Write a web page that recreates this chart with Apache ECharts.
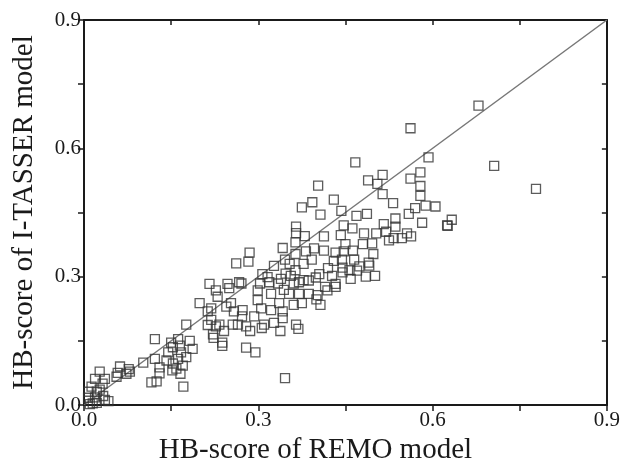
<!DOCTYPE html>
<html>
<head>
<meta charset="utf-8">
<script src="https://cdn.jsdelivr.net/npm/echarts@6/dist/echarts.min.js"></script>
<style>
  html, body { margin: 0; padding: 0; background: #fff; }
  #chart { width: 623px; height: 470px; }
</style>
</head>
<body>
<div id="chart"></div>
<script>
// axis settings
const axisMin = 0
const axisMax = 0.9
const tickStep = 0.15
const labelStep = 0.3

// identity line y = x
const diagonal = [[0, 0], [0.9, 0.9]]

// HB-score pairs [REMO, I-TASSER]
const nearOrigin = [
  [0.007, 0.017], [0.019, 0.018], [0.033, 0.021], [0.027, 0.036], [0.013, 0.043],
  [0.019, 0.061], [0.027, 0.078], [0.036, 0.061], [0.022, 0.031], [0.008, 0.031],
  [0.015, 0.004], [0.042, 0.009], [0.036, 0.012], [0.022, 0.005], [0.032, 0.050],
  [0.010, 0.002], [0.056, 0.066], [0.062, 0.090], [0.058, 0.075], [0.079, 0.078],
  [0.073, 0.073], [0.077, 0.084], [0.102, 0.099], [0.122, 0.154], [0.122, 0.108],
  [0.125, 0.055], [0.116, 0.053], [0.130, 0.074], [0.130, 0.088]
]
const lowRange = [
  [0.142, 0.104], [0.145, 0.123], [0.153, 0.135], [0.150, 0.146], [0.162, 0.154],
  [0.165, 0.139], [0.167, 0.123], [0.162, 0.108], [0.153, 0.097], [0.159, 0.085],
  [0.176, 0.112], [0.187, 0.131], [0.182, 0.150], [0.171, 0.043], [0.176, 0.188],
  [0.152, 0.081], [0.166, 0.073], [0.170, 0.092], [0.213, 0.219], [0.213, 0.187],
  [0.219, 0.199], [0.227, 0.184], [0.222, 0.165], [0.238, 0.146], [0.245, 0.230],
  [0.233, 0.188], [0.256, 0.188], [0.216, 0.283], [0.227, 0.268], [0.247, 0.283],
  [0.267, 0.287], [0.199, 0.238], [0.219, 0.226], [0.253, 0.238], [0.230, 0.253],
  [0.238, 0.138], [0.241, 0.173], [0.223, 0.157]
]
const midRange = [
  [0.285, 0.356], [0.283, 0.335], [0.262, 0.331], [0.342, 0.367], [0.346, 0.340],
  [0.327, 0.325], [0.307, 0.306], [0.299, 0.268], [0.319, 0.287], [0.339, 0.295],
  [0.356, 0.302], [0.370, 0.287], [0.299, 0.245], [0.322, 0.260], [0.336, 0.238],
  [0.353, 0.260], [0.370, 0.260], [0.273, 0.222], [0.293, 0.207], [0.305, 0.226],
  [0.322, 0.222], [0.342, 0.219], [0.310, 0.188], [0.327, 0.192], [0.342, 0.203],
  [0.365, 0.188], [0.279, 0.184], [0.279, 0.134], [0.295, 0.123], [0.346, 0.063],
  [0.369, 0.178], [0.338, 0.173], [0.286, 0.173], [0.306, 0.180], [0.265, 0.188],
  [0.272, 0.207], [0.258, 0.219], [0.271, 0.284], [0.250, 0.273], [0.365, 0.417],
  [0.365, 0.402], [0.316, 0.299], [0.303, 0.284], [0.334, 0.284], [0.347, 0.307],
  [0.361, 0.234], [0.375, 0.238], [0.344, 0.269]
]
const highRange = [
  [0.467, 0.567], [0.593, 0.579], [0.489, 0.525], [0.514, 0.538], [0.505, 0.517],
  [0.562, 0.529], [0.579, 0.544], [0.579, 0.512], [0.579, 0.489], [0.403, 0.513],
  [0.393, 0.474], [0.430, 0.480], [0.375, 0.462], [0.407, 0.445], [0.443, 0.454],
  [0.514, 0.493], [0.532, 0.472], [0.588, 0.466], [0.605, 0.464], [0.570, 0.460],
  [0.559, 0.447], [0.582, 0.426], [0.625, 0.420], [0.633, 0.433], [0.536, 0.436],
  [0.536, 0.417], [0.516, 0.423], [0.487, 0.447], [0.469, 0.442], [0.447, 0.420],
  [0.462, 0.413], [0.482, 0.401], [0.503, 0.401], [0.496, 0.378], [0.533, 0.390],
  [0.547, 0.390], [0.563, 0.394], [0.556, 0.401], [0.413, 0.394], [0.442, 0.397],
  [0.382, 0.359], [0.396, 0.366], [0.413, 0.361], [0.433, 0.356], [0.447, 0.359],
  [0.430, 0.337], [0.444, 0.340], [0.465, 0.340], [0.490, 0.333], [0.470, 0.314],
  [0.485, 0.300], [0.501, 0.302], [0.459, 0.295], [0.433, 0.276], [0.415, 0.276],
  [0.399, 0.298], [0.445, 0.321], [0.405, 0.306], [0.427, 0.302], [0.445, 0.310],
  [0.402, 0.257], [0.419, 0.268], [0.433, 0.283], [0.387, 0.291], [0.387, 0.260],
  [0.400, 0.247], [0.407, 0.234], [0.378, 0.330], [0.364, 0.353], [0.354, 0.330],
  [0.364, 0.315], [0.378, 0.292], [0.361, 0.284], [0.480, 0.376], [0.463, 0.361],
  [0.450, 0.376], [0.474, 0.324], [0.491, 0.326], [0.457, 0.315], [0.420, 0.320],
  [0.392, 0.340], [0.380, 0.395], [0.364, 0.380], [0.498, 0.353], [0.520, 0.405],
  [0.525, 0.385]
]
const outliers = [
  [0.679, 0.700], [0.562, 0.647], [0.706, 0.559], [0.778, 0.505], [0.626, 0.419]
]

const points = [].concat(nearOrigin, lowRange, midRange, highRange, outliers)

const chart = echarts.init(document.getElementById('chart'), null, { renderer: 'canvas' })

const serif = '"Liberation Serif", "Times New Roman", serif'
const ink = '#1a1a1a'

// only every other tick gets a label
const tickLabel = (v) => {
  const k = Math.round(v / tickStep)
  return k % Math.round(labelStep / tickStep) === 0 ? v.toFixed(1) : ''
}

const baseAxis = {
  type: 'value',
  min: axisMin,
  max: axisMax,
  interval: tickStep,
  splitLine: { show: false },
  axisLine: { show: true, onZero: false, lineStyle: { color: ink, width: 2 } },
  axisTick: { show: true, length: 6, lineStyle: { color: ink, width: 1.5 } }
}

chart.setOption({
  animation: false,
  backgroundColor: '#fff',
  grid: { left: 84, right: 14, top: 20, bottom: 56 },
  xAxis: [
    {
      ...baseAxis,
      position: 'bottom',
      name: 'HB-score of REMO model',
      nameLocation: 'middle',
      nameGap: 31,
      // the title sits a little left of the plot centre
      nameTextStyle: { fontFamily: serif, fontSize: 29, color: ink, padding: [0, 60, 0, 0] },
      axisLabel: { formatter: tickLabel, margin: 5, fontFamily: serif, fontSize: 21, color: ink }
    },
    {
      ...baseAxis,
      position: 'top',
      axisTick: { show: true, inside: true, length: 5, lineStyle: { color: ink, width: 1.5 } },
      axisLabel: { show: false }
    }
  ],
  yAxis: [
    {
      ...baseAxis,
      position: 'left',
      name: 'HB-score of I-TASSER model',
      nameLocation: 'middle',
      nameGap: 45,
      nameTextStyle: { fontFamily: serif, fontSize: 29, color: ink },
      axisLabel: { formatter: tickLabel, margin: 3, fontFamily: serif, fontSize: 21, color: ink }
    },
    {
      ...baseAxis,
      position: 'right',
      axisTick: { show: true, inside: true, length: 5, lineStyle: { color: ink, width: 1.5 } },
      axisLabel: { show: false }
    }
  ],
  series: [
    {
      type: 'line',
      data: diagonal,
      symbol: 'none',
      lineStyle: { color: '#777', width: 1.5 },
      z: 1
    },
    {
      type: 'scatter',
      data: points,
      symbol: 'rect',
      symbolSize: 9,
      itemStyle: { color: 'rgba(0,0,0,0)', borderColor: '#333', borderWidth: 1.3 },
      z: 2
    }
  ]
})
</script>
</body>
</html>
